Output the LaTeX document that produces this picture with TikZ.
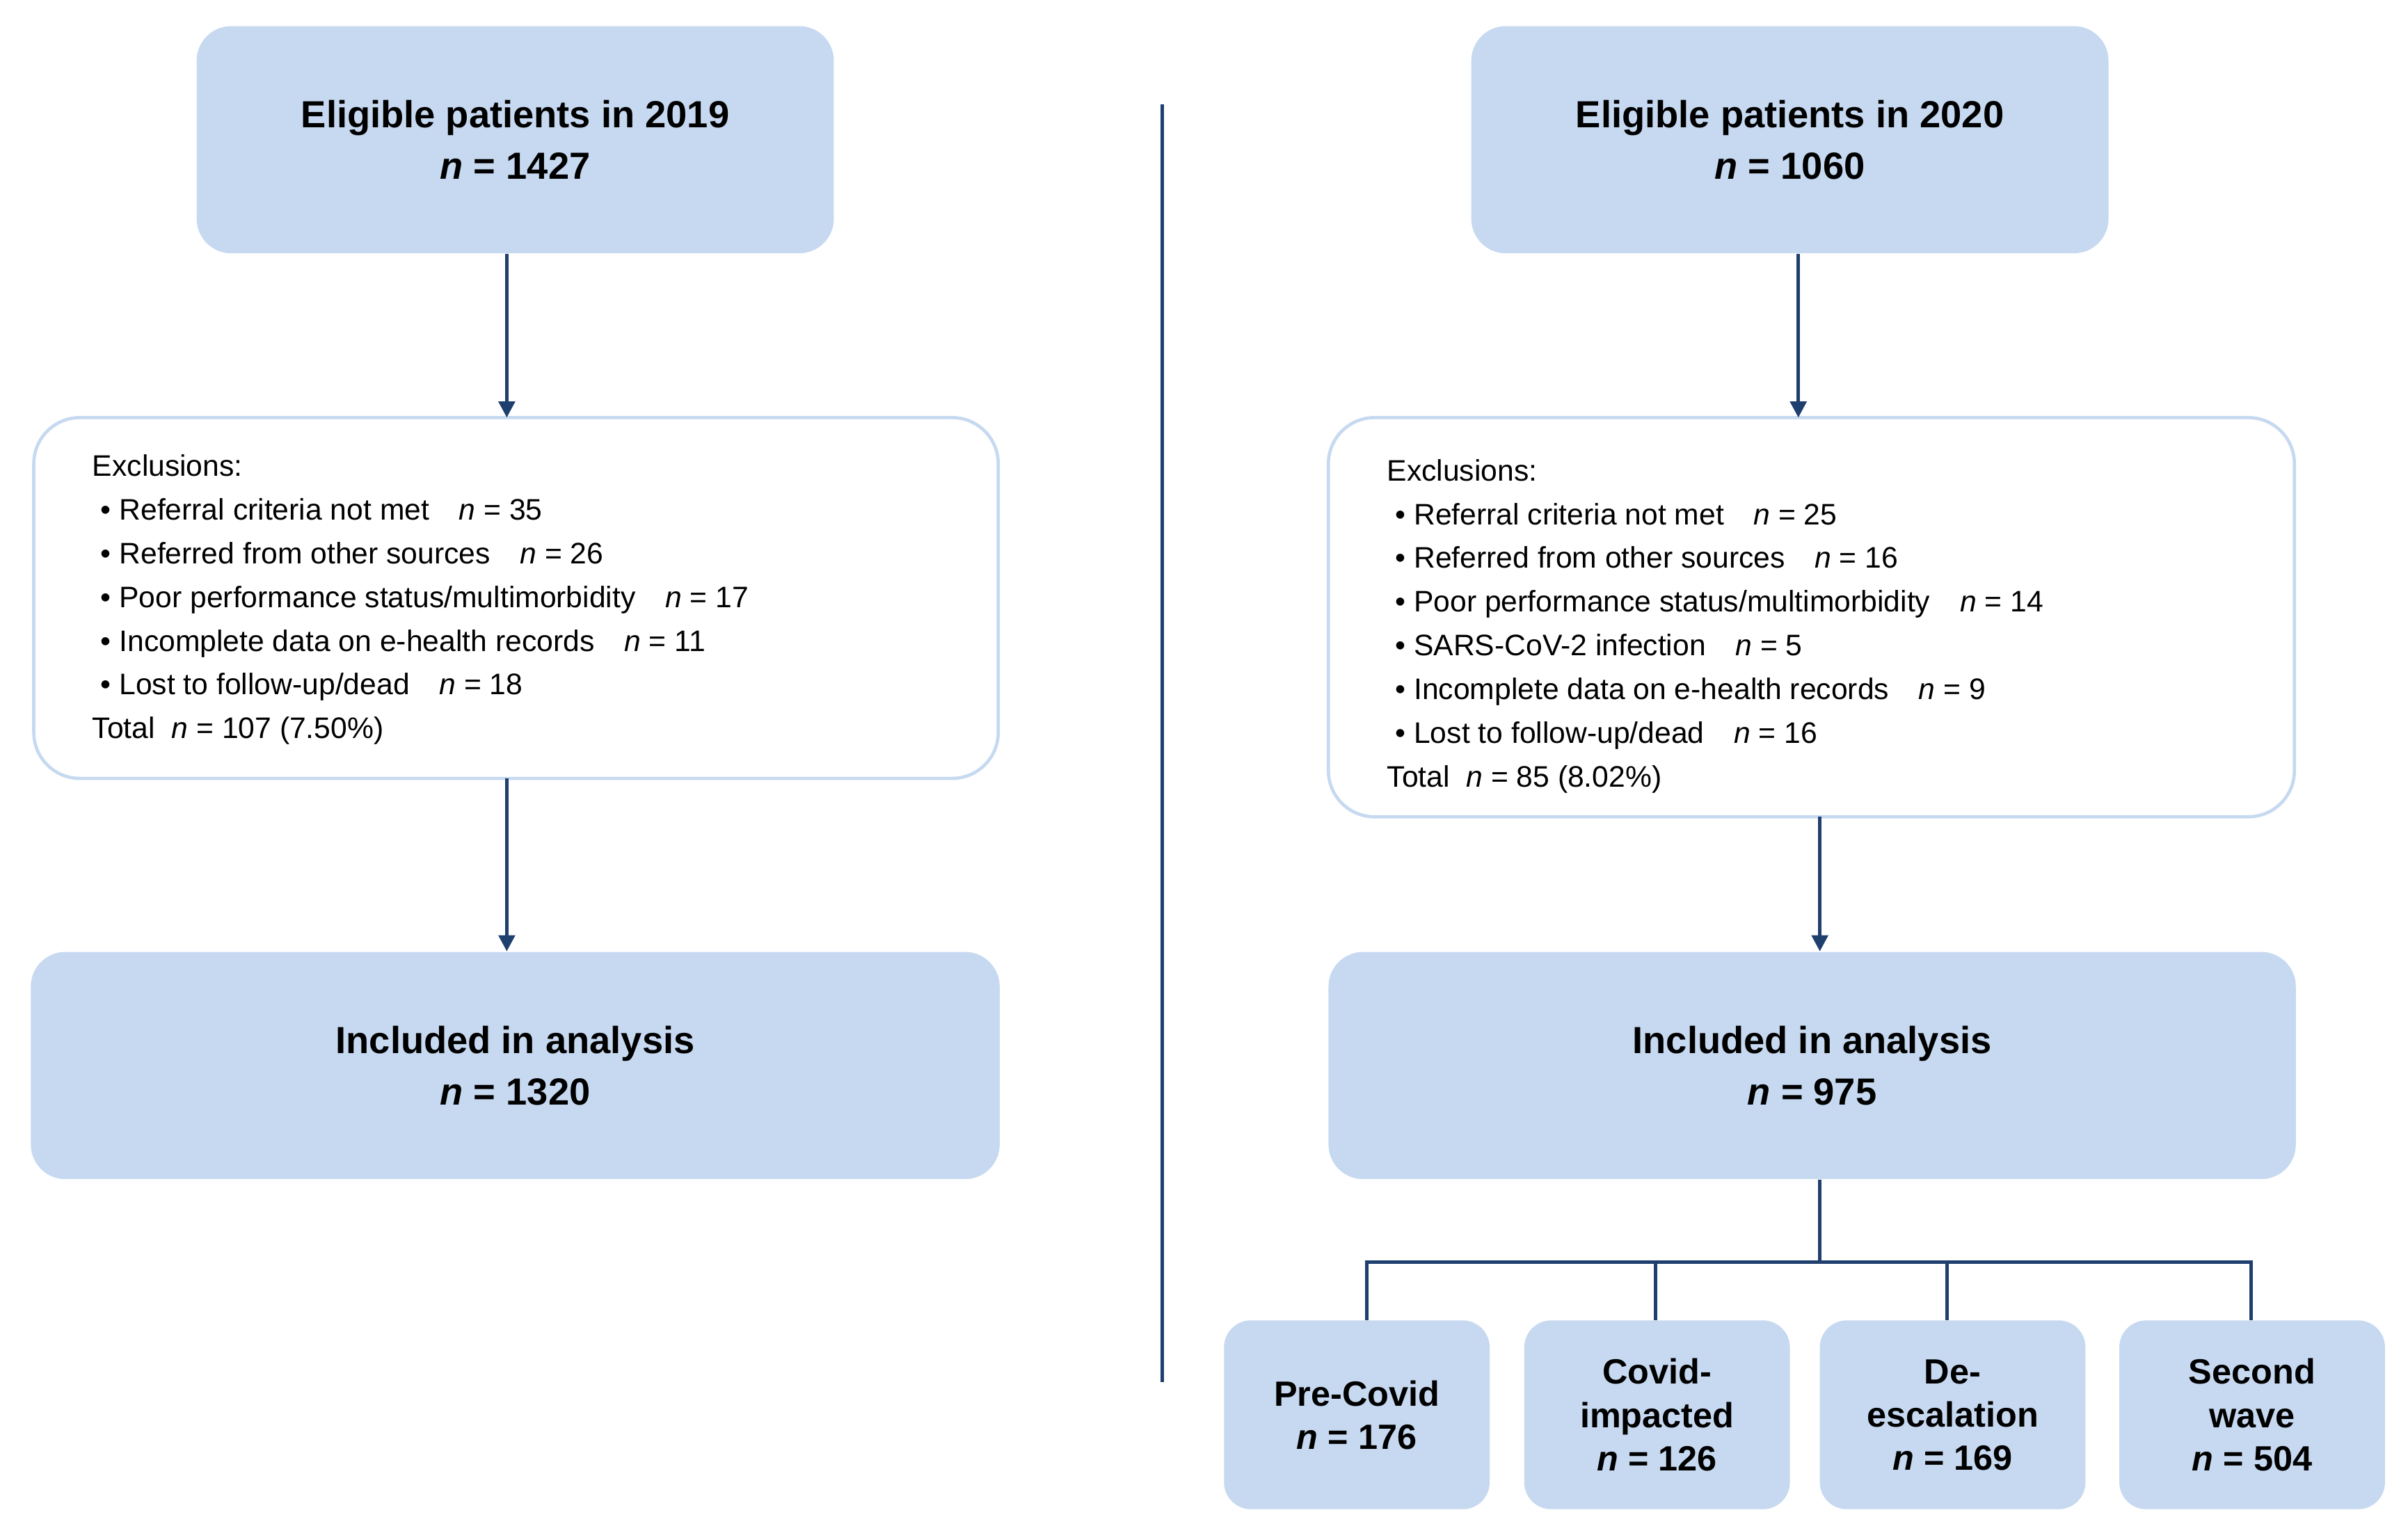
\documentclass[tikz,border=0pt]{standalone}
\usepackage{fontspec}
\setmainfont{Liberation Sans}
\usetikzlibrary{arrows.meta}
\definecolor{boxblue}{RGB}{198,217,240}
\definecolor{linkblue}{RGB}{31,63,110}
\tikzset{
  main/.style={fill=boxblue, draw=none, rounded corners=0.45cm, align=center, font=\fontsize{14}{19}\selectfont\bfseries},
  excl/.style={draw=boxblue, line width=1.2pt, fill=white, rounded corners=0.6cm},
  sub/.style={fill=boxblue, draw=none, rounded corners=0.35cm, align=center, minimum width=3.46cm, minimum height=2.46cm, font=\fontsize{13}{16}\selectfont\bfseries},
  link/.style={draw=linkblue, line width=1.3pt},
  arr/.style={link, -{Triangle[length=6pt,width=6pt]}},
  list/.style={anchor=north west, align=left, font=\fontsize{11}{16.2}\selectfont}
}
\begin{document}
\begin{tikzpicture}[x=0.02cm,y=-0.02cm]
\useasboundingbox (0,0) rectangle (1568,1003);
% 2019 column
\node[main, minimum width=8.3cm, minimum height=2.96cm] (e19) at (335.5,91) {Eligible patients in 2019\\\textit{n} = 1427};
\draw[excl] (22,272) rectangle (650,507);
\node[list] (x19) at (54,290) {Exclusions:\\
\ \textbullet\ Referral criteria not met\quad \textit{n} = 35\\
\ \textbullet\ Referred from other sources\quad \textit{n} = 26\\
\ \textbullet\ Poor performance status/multimorbidity\quad \textit{n} = 17\\
\ \textbullet\ Incomplete data on e-health records\quad \textit{n} = 11\\
\ \textbullet\ Lost to follow-up/dead\quad \textit{n} = 18\\
Total\ \ \textit{n} = 107 (7.50\%)};
\coordinate (x19t) at (330,272);
\coordinate (x19b) at (330,507);
\node[main, minimum width=12.62cm, minimum height=2.96cm] (i19) at (335.5,694) {Included in analysis\\\textit{n} = 1320};
\draw[arr] (e19.south -| x19t) -- (x19t);
\draw[arr] (x19b) -- (i19.north -| x19b);
% divider
\coordinate (d1) at (757,68);
\coordinate (d2) at (757,900);
\draw[link] (d1) -- (d2);
% 2020 column
\node[main, minimum width=8.3cm, minimum height=2.96cm] (e20) at (1165.5,91) {Eligible patients in 2020\\\textit{n} = 1060};
\draw[excl] (865,272) rectangle (1494,532);
\node[list] (x20) at (897,293) {Exclusions:\\
\ \textbullet\ Referral criteria not met\quad \textit{n} = 25\\
\ \textbullet\ Referred from other sources\quad \textit{n} = 16\\
\ \textbullet\ Poor performance status/multimorbidity\quad \textit{n} = 14\\
\ \textbullet\ SARS-CoV-2 infection\quad \textit{n} = 5\\
\ \textbullet\ Incomplete data on e-health records\quad \textit{n} = 9\\
\ \textbullet\ Lost to follow-up/dead\quad \textit{n} = 16\\
Total\ \ \textit{n} = 85 (8.02\%)};
\coordinate (x20t) at (1171,272);
\coordinate (x20b) at (1185,532);
\node[main, minimum width=12.6cm, minimum height=2.96cm] (i20) at (1180,694) {Included in analysis\\\textit{n} = 975};
\draw[arr] (e20.south -| x20t) -- (x20t);
\draw[arr] (x20b) -- (i20.north -| x20b);
% subgroups
\node[sub] (s1) at (883.5,921.5) {Pre-Covid\\\textit{n} = 176};
\node[sub] (s2) at (1079,921.5) {Covid-\\impacted\\\textit{n} = 126};
\node[sub] (s3) at (1271.5,921.5) {De-\\escalation\\\textit{n} = 169};
\node[sub] (s4) at (1466.5,921.5) {Second\\wave\\\textit{n} = 504};
\coordinate (hub) at (1185,822);
\draw[link] (i20.south -| hub) -- (hub);
\draw[link] (s1.north -| 890,0) |- (hub) -| (s4.north -| 1466,0);
\foreach \s/\x in {s2/1078, s3/1268}
  \draw[link] (\s.north -| \x,0) -- (\x,822);
\end{tikzpicture}
\end{document}
